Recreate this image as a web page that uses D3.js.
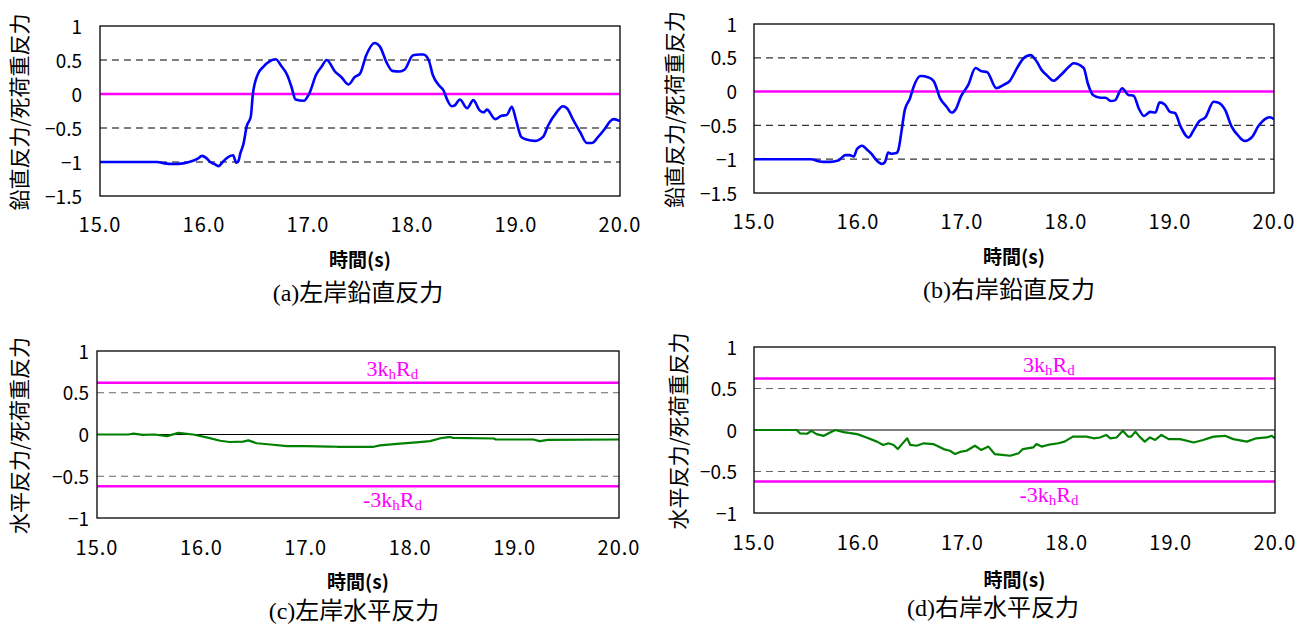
<!DOCTYPE html>
<html>
<head>
<meta charset="utf-8">
<script src="https://cdn.jsdelivr.net/npm/d3@7"></script>
<style>
  body { margin: 0; background: #fff; }
  svg { display: block; }
</style>
</head>
<body>
<svg id="chart" width="1304" height="628"></svg>
<script>
// Time axis and ratio axis ticks
const timeTicks = [15, 16, 17, 18, 19, 20];
const verticalTicks = [-1.5, -1, -0.5, 0, 0.5, 1];
const horizontalTicks = [-1, -0.5, 0, 0.5, 1];
const verticalGrid = [0.5, -0.5, -1];
const horizontalGrid = [0.5, -0.5];

// Allowable horizontal force ratio (±3·kh·Rd)
const limitValue = 0.62;

// Vertical reaction / dead-load reaction, left bank: [time (s), ratio]
const leftVertical = [
  [15.0, -1.0], [15.3, -1.0], [15.55, -1.0], [15.62, -1.02], [15.70, -1.03], [15.80, -1.02],
  [15.88, -0.99], [15.94, -0.95], [15.98, -0.91], [16.02, -0.94], [16.06, -1.0], [16.10, -1.03],
  [16.14, -1.06], [16.18, -1.0], [16.22, -0.94], [16.28, -0.90], [16.31, -1.01], [16.33, -0.99],
  [16.35, -0.87], [16.38, -0.73], [16.41, -0.48], [16.45, -0.33], [16.47, 0.0], [16.52, 0.30],
  [16.57, 0.40], [16.63, 0.48], [16.69, 0.51], [16.74, 0.42], [16.80, 0.28], [16.84, 0.11],
  [16.88, -0.08], [16.96, -0.10], [17.01, 0.0], [17.08, 0.29], [17.13, 0.40], [17.18, 0.50],
  [17.26, 0.33], [17.32, 0.25], [17.39, 0.14], [17.45, 0.25], [17.50, 0.30], [17.56, 0.57],
  [17.64, 0.75], [17.69, 0.70], [17.76, 0.45], [17.81, 0.34], [17.88, 0.33], [17.93, 0.36],
  [18.01, 0.57], [18.07, 0.58], [18.11, 0.58], [18.16, 0.50], [18.20, 0.28], [18.27, 0.11],
  [18.30, 0.06], [18.34, -0.09], [18.38, -0.18], [18.41, -0.17], [18.46, -0.08], [18.53, -0.21],
  [18.59, -0.09], [18.65, -0.24], [18.69, -0.27], [18.72, -0.23], [18.80, -0.37], [18.86, -0.32],
  [18.91, -0.31], [18.96, -0.19], [19.00, -0.38], [19.05, -0.63], [19.10, -0.67], [19.18, -0.69],
  [19.26, -0.63], [19.31, -0.46], [19.39, -0.27], [19.45, -0.18], [19.49, -0.21], [19.55, -0.38],
  [19.62, -0.57], [19.68, -0.72], [19.73, -0.72], [19.79, -0.63], [19.86, -0.50], [19.90, -0.41],
  [19.94, -0.37], [20.0, -0.40]
];

// Vertical reaction / dead-load reaction, right bank
const rightVertical = [
  [15.0, -1.0], [15.55, -1.0], [15.62, -1.03], [15.67, -1.04], [15.73, -1.04], [15.81, -1.02],
  [15.88, -0.94], [15.92, -0.94], [15.96, -0.96], [15.99, -0.85], [16.04, -0.80], [16.08, -0.85],
  [16.13, -0.92], [16.18, -1.02], [16.23, -1.07], [16.26, -1.04], [16.29, -0.90], [16.32, -0.92],
  [16.37, -0.91], [16.39, -0.85], [16.42, -0.57], [16.45, -0.27], [16.50, -0.10], [16.53, 0.05],
  [16.60, 0.23], [16.68, 0.21], [16.73, 0.15], [16.79, -0.10], [16.85, -0.22], [16.90, -0.31],
  [16.94, -0.26], [16.99, -0.07], [17.06, 0.10], [17.13, 0.35], [17.19, 0.30], [17.24, 0.29],
  [17.33, 0.05], [17.40, 0.10], [17.46, 0.16], [17.53, 0.35], [17.59, 0.49], [17.66, 0.54],
  [17.72, 0.44], [17.77, 0.31], [17.81, 0.25], [17.88, 0.16], [17.94, 0.23], [18.03, 0.37],
  [18.07, 0.42], [18.17, 0.35], [18.21, 0.12], [18.26, -0.05], [18.33, -0.09], [18.38, -0.09],
  [18.43, -0.14], [18.47, -0.13], [18.54, 0.05], [18.60, -0.05], [18.65, -0.06], [18.70, -0.25],
  [18.75, -0.36], [18.81, -0.30], [18.86, -0.31], [18.90, -0.16], [18.95, -0.19], [19.00, -0.30],
  [19.05, -0.32], [19.10, -0.51], [19.18, -0.68], [19.22, -0.59], [19.28, -0.44], [19.34, -0.38],
  [19.42, -0.15], [19.46, -0.16], [19.53, -0.27], [19.59, -0.51], [19.66, -0.66], [19.72, -0.73],
  [19.79, -0.67], [19.85, -0.51], [19.91, -0.41], [19.96, -0.38], [20.0, -0.41]
];

// Horizontal reaction / dead-load reaction, left bank
const leftHorizontal = [
  [15.0, 0.0], [15.3, 0.0], [15.35, 0.01], [15.44, -0.005], [15.55, 0.0], [15.67, -0.02],
  [15.78, 0.02], [15.92, 0.0], [16.05, -0.035], [16.18, -0.075], [16.27, -0.09], [16.40, -0.085],
  [16.45, -0.07], [16.53, -0.105], [16.66, -0.12], [16.82, -0.14], [17.0, -0.14], [17.23, -0.145],
  [17.30, -0.147], [17.65, -0.147], [17.71, -0.13], [17.90, -0.11], [18.06, -0.095], [18.19, -0.08],
  [18.29, -0.045], [18.35, -0.035], [18.38, -0.03], [18.41, -0.04], [18.80, -0.048], [18.82, -0.06],
  [19.18, -0.06], [19.24, -0.08], [19.32, -0.065], [20.0, -0.06]
];

// Horizontal reaction / dead-load reaction, right bank
const rightHorizontal = [
  [15.0, 0.0], [15.41, 0.0], [15.44, -0.04], [15.51, -0.045], [15.55, -0.01], [15.60, -0.05],
  [15.67, -0.07], [15.73, -0.03], [15.78, 0.0], [15.86, -0.025], [15.99, -0.05], [16.08, -0.09],
  [16.18, -0.14], [16.24, -0.18], [16.29, -0.16], [16.34, -0.18], [16.38, -0.23], [16.42, -0.17],
  [16.47, -0.10], [16.50, -0.18], [16.56, -0.19], [16.63, -0.16], [16.72, -0.17], [16.82, -0.23],
  [16.88, -0.25], [16.93, -0.29], [16.99, -0.26], [17.04, -0.25], [17.12, -0.19], [17.18, -0.24],
  [17.25, -0.20], [17.31, -0.29], [17.38, -0.30], [17.46, -0.31], [17.54, -0.28], [17.58, -0.23],
  [17.68, -0.21], [17.71, -0.17], [17.76, -0.20], [17.82, -0.18], [17.92, -0.16], [17.98, -0.14],
  [18.06, -0.08], [18.19, -0.08], [18.26, -0.10], [18.32, -0.09], [18.38, -0.06], [18.42, -0.10],
  [18.48, -0.09], [18.54, -0.01], [18.59, -0.08], [18.62, -0.08], [18.66, -0.02], [18.70, -0.08],
  [18.75, -0.14], [18.80, -0.09], [18.85, -0.12], [18.91, -0.06], [18.98, -0.11], [19.09, -0.11],
  [19.22, -0.15], [19.31, -0.12], [19.41, -0.08], [19.52, -0.07], [19.60, -0.11], [19.73, -0.14],
  [19.82, -0.10], [19.92, -0.09], [19.97, -0.07], [20.0, -0.10]
];

const timeTitle = "時間(s)";
const verticalTitle = "鉛直反力/死荷重反力";
const horizontalTitle = "水平反力/死荷重反力";
const captions = ["(a)左岸鉛直反力", "(b)右岸鉛直反力", "(c)左岸水平反力", "(d)右岸水平反力"];

const panels = [
  { data: leftVertical, kind: "v", caption: captions[0], title: verticalTitle,
    box: [100, 620, 26, 196], yLabelGap: 18, titleX: 18, xTickY: 232, xTitleY: 267, capX: 358, capY: 301, gridColor: "#000" },
  { data: rightVertical, kind: "v", caption: captions[1], title: verticalTitle,
    box: [754, 1274, 24, 193], yLabelGap: 17, titleX: 673, xTickY: 229, xTitleY: 264, capX: 1009, capY: 298, gridColor: "#333" },
  { data: leftHorizontal, kind: "h", caption: captions[2], title: horizontalTitle,
    box: [97, 619, 351, 518], yLabelGap: 8, titleX: 18, xTickY: 555, xTitleY: 589, capX: 354, capY: 619, gridColor: "#666" },
  { data: rightHorizontal, kind: "h", caption: captions[3], title: horizontalTitle,
    box: [754, 1275, 347, 513], yLabelGap: 17, titleX: 677, xTickY: 550, xTitleY: 587, capX: 993, capY: 616, gridColor: "#666" }
];

const svg = d3.select("#chart");
const sansJP = "'Noto Sans CJK JP', 'Noto Sans', sans-serif";
const serifJP = "'Liberation Serif', 'Noto Sans CJK JP', serif";
const fmtY = v => (v < 0 ? "\u2212" : "") + d3.format("")(Math.abs(v));

panels.forEach((p, i) => {
  const [x0, x1, y0, y1] = p.box;
  const isV = p.kind === "v";
  const x = d3.scaleLinear().domain([15, 20]).range([x0, x1]);
  const y = d3.scaleLinear().domain(isV ? [-1.5, 1] : [-1, 1]).range([y1, y0]);
  const yTicks = isV ? verticalTicks : horizontalTicks;
  const g = svg.append("g");

  const clipId = "clip" + i;
  svg.append("clipPath").attr("id", clipId)
    .append("rect").attr("x", x0).attr("y", y0).attr("width", x1 - x0).attr("height", y1 - y0);

  // dashed grid
  g.selectAll(".grid").data(isV ? verticalGrid : horizontalGrid).join("line")
    .attr("x1", x0).attr("x2", x1)
    .attr("y1", d => y(d)).attr("y2", d => y(d))
    .attr("stroke", p.gridColor).attr("stroke-width", 1.2)
    .attr("stroke-dasharray", "7,5");

  if (isV) {
    // zero line
    g.append("line").attr("x1", x0).attr("x2", x1).attr("y1", y(0)).attr("y2", y(0))
      .attr("stroke", "#ff00ff").attr("stroke-width", 2.5);
  } else {
    g.append("line").attr("x1", x0).attr("x2", x1).attr("y1", y(0)).attr("y2", y(0))
      .attr("stroke", "#000").attr("stroke-width", 1);
    [limitValue, -limitValue].forEach(L => {
      g.append("line").attr("x1", x0).attr("x2", x1).attr("y1", y(L)).attr("y2", y(L))
        .attr("stroke", "#ff00ff").attr("stroke-width", 2.5);
    });
    // limit labels
    const lab = (txt, L, dy) => {
      const t = g.append("text")
        .attr("x", x(17.83)).attr("y", y(L) + dy)
        .attr("text-anchor", "middle")
        .attr("font-family", serifJP).attr("font-size", 22).attr("fill", "#ff00ff");
      t.append("tspan").text(txt + "k");
      t.append("tspan").attr("font-size", 15).attr("dy", 3).text("h");
      t.append("tspan").attr("dy", -3).text("R");
      t.append("tspan").attr("font-size", 15).attr("dy", 3).text("d");
    };
    lab("3", limitValue, -7);
    lab("-3", -limitValue, 21);
  }

  // series line
  const line = d3.line().x(d => x(d[0])).y(d => y(d[1]))
    .curve(isV ? d3.curveMonotoneX : d3.curveLinear);
  g.append("path").datum(p.data)
    .attr("clip-path", `url(#${clipId})`)
    .attr("d", line)
    .attr("fill", "none")
    .attr("stroke", isV ? "#0000ff" : "#008000")
    .attr("stroke-width", isV ? 2.6 : 2.2)
    .attr("stroke-linejoin", "round");

  // plot frame
  g.append("rect").attr("x", x0).attr("y", y0).attr("width", x1 - x0).attr("height", y1 - y0)
    .attr("fill", "none").attr("stroke", "#000").attr("stroke-width", 1.3);

  // y tick labels
  g.selectAll(".yt").data(yTicks).join("text")
    .attr("x", x0 - p.yLabelGap).attr("y", d => y(d) + 7.5)
    .attr("text-anchor", "end")
    .attr("font-family", sansJP).attr("font-size", 19).attr("fill", "#000")
    .text(fmtY);

  // x tick labels
  g.selectAll(".xt").data(timeTicks).join("text")
    .attr("x", d => x(d)).attr("y", p.xTickY)
    .attr("text-anchor", "middle")
    .attr("font-family", sansJP).attr("font-size", 20).attr("fill", "#000")
    .attr("letter-spacing", 1)
    .text(d3.format(".1f"));

  // x axis title
  g.append("text").attr("x", (x0 + x1) / 2).attr("y", p.xTitleY)
    .attr("text-anchor", "middle")
    .attr("font-family", sansJP).attr("font-size", 19).attr("font-weight", 700)
    .text(timeTitle);

  // y axis title
  g.append("text")
    .attr("transform", `translate(${p.titleX},${(y0 + y1) / 2 + 1}) rotate(-90)`)
    .attr("text-anchor", "middle").attr("dominant-baseline", "central")
    .attr("font-family", sansJP).attr("font-size", 21)
    .text(p.title);

  // caption
  g.append("text").attr("x", p.capX).attr("y", p.capY)
    .attr("text-anchor", "middle")
    .attr("font-family", serifJP).attr("font-size", 24)
    .text(p.caption);
});
</script>
</body>
</html>
